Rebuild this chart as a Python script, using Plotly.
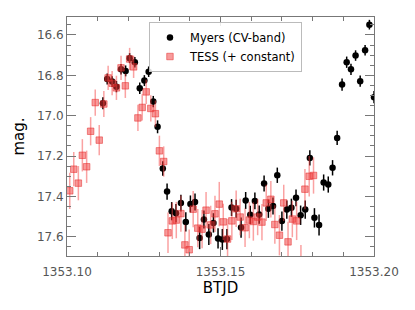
import plotly.graph_objects as go

# Myers (CV-band)
myers_t = [1353.1117, 1353.1131, 1353.1147, 1353.1161, 1353.1176, 1353.1191, 1353.1204, 1353.1221,
           1353.1237, 1353.1252, 1353.1266, 1353.1281, 1353.1295, 1353.1312, 1353.1326, 1353.1341,
           1353.1355, 1353.1371, 1353.1387, 1353.1402, 1353.1417, 1353.1432, 1353.1446, 1353.1462,
           1353.1477, 1353.1492, 1353.1506, 1353.1521, 1353.1536, 1353.1551, 1353.1567, 1353.1582,
           1353.1597, 1353.1612, 1353.1626, 1353.1642, 1353.1656, 1353.1671, 1353.1685, 1353.1700,
           1353.1716, 1353.1731, 1353.1746, 1353.1761, 1353.1776, 1353.1791, 1353.1806, 1353.1821,
           1353.1836, 1353.1851, 1353.1865, 1353.1880, 1353.1896, 1353.1911, 1353.1925, 1353.1940,
           1353.1955, 1353.1971, 1353.1985, 1353.2000]
myers_mag = [16.938, 16.818, 16.831, 16.856, 16.770, 16.778, 16.715, 16.735,
             16.864, 16.826, 16.782, 16.930, 17.055, 17.262, 17.376, 17.473,
             17.483, 17.433, 17.526, 17.437, 17.427, 17.606, 17.514, 17.589,
             17.531, 17.608, 17.613, 17.611, 17.455, 17.461, 17.554, 17.420,
             17.491, 17.422, 17.490, 17.336, 17.461, 17.447, 17.295, 17.522,
             17.465, 17.456, 17.407, 17.493, 17.465, 17.209, 17.506, 17.541,
             17.331, 17.341, 17.258, 17.110, 16.846, 16.735, 16.770, 16.702,
             16.829, 16.676, 16.549, 16.908]
myers_err = [0.030, 0.027, 0.027, 0.028, 0.026, 0.027, 0.025, 0.026,
             0.028, 0.027, 0.026, 0.028, 0.032, 0.036, 0.040, 0.045,
             0.045, 0.042, 0.048, 0.042, 0.042, 0.055, 0.045, 0.052,
             0.048, 0.050, 0.052, 0.050, 0.042, 0.045, 0.050, 0.042,
             0.045, 0.042, 0.045, 0.040, 0.045, 0.042, 0.038, 0.048,
             0.045, 0.045, 0.042, 0.048, 0.045, 0.038, 0.048, 0.052,
             0.040, 0.040, 0.038, 0.035, 0.030, 0.028, 0.028, 0.026,
             0.028, 0.026, 0.024, 0.030]

# TESS (+ constant)
tess_t = [1353.1009, 1353.1022, 1353.1037, 1353.1050, 1353.1064, 1353.1077, 1353.1092, 1353.1105,
          1353.1120, 1353.1134, 1353.1147, 1353.1161, 1353.1176, 1353.1190, 1353.1204, 1353.1217,
          1353.1231, 1353.1245, 1353.1258, 1353.1273, 1353.1288, 1353.1301, 1353.1315, 1353.1329,
          1353.1343, 1353.1356, 1353.1371, 1353.1384, 1353.1398, 1353.1411, 1353.1426, 1353.1440,
          1353.1453, 1353.1468, 1353.1482, 1353.1496, 1353.1509, 1353.1523, 1353.1537, 1353.1551,
          1353.1564, 1353.1580, 1353.1594, 1353.1607, 1353.1621, 1353.1635, 1353.1649, 1353.1664,
          1353.1677, 1353.1692, 1353.1706, 1353.1720, 1353.1734, 1353.1748, 1353.1762, 1353.1775,
          1353.1789, 1353.1803]
tess_mag = [17.372, 17.265, 17.334, 17.196, 17.253, 17.077, 16.935, 17.121,
            16.942, 16.813, 16.839, 16.862, 16.763, 16.852, 16.719, 16.758,
            17.011, 16.959, 16.882, 16.964, 16.990, 17.174, 17.227, 17.580,
            17.521, 17.517, 17.485, 17.640, 17.664, 17.463, 17.557, 17.562,
            17.468, 17.541, 17.486, 17.438, 17.526, 17.611, 17.521, 17.461,
            17.502, 17.555, 17.517, 17.524, 17.502, 17.527, 17.432, 17.414,
            17.539, 17.592, 17.432, 17.625, 17.512, 17.521, 17.740, 17.364,
            17.300, 17.296]
tess_err = [0.090, 0.085, 0.085, 0.080, 0.080, 0.070, 0.065, 0.075,
            0.065, 0.060, 0.060, 0.060, 0.060, 0.060, 0.055, 0.055,
            0.065, 0.065, 0.060, 0.065, 0.065, 0.075, 0.075, 0.100,
            0.090, 0.090, 0.090, 0.100, 0.100, 0.090, 0.095, 0.095,
            0.090, 0.095, 0.090, 0.110, 0.090, 0.100, 0.095, 0.090,
            0.090, 0.095, 0.090, 0.095, 0.090, 0.090, 0.090, 0.090,
            0.095, 0.100, 0.090, 0.100, 0.090, 0.095, 0.100, 0.100,
            0.100, 0.090]

fig = go.Figure()
fig.add_trace(go.Scatter(
    x=myers_t, y=myers_mag, mode="markers", name="Myers (CV-band)",
    marker=dict(symbol="circle", size=6.5, color="black"),
    error_y=dict(type="data", array=myers_err, visible=True, color="black", thickness=1.5, width=0),
))
fig.add_trace(go.Scatter(
    x=tess_t, y=tess_mag, mode="markers", name="TESS (+ constant)",
    marker=dict(symbol="square", size=6.5, color="rgba(240,55,55,0.5)",
                line=dict(color="rgba(230,40,40,0.5)", width=1)),
    error_y=dict(type="data", array=tess_err, visible=True, color="rgba(245,70,70,0.5)",
                 thickness=1.5, width=0),
))

axis_col = "#777777"
fig.update_layout(
    width=407, height=302,
    margin=dict(l=59, r=41, t=9, b=54, autoexpand=False),
    paper_bgcolor="white", plot_bgcolor="white",
    font=dict(family="DejaVu Sans", size=12, color="black"),
    showlegend=True,
    legend=dict(x=0.267, y=0.979, xanchor="left", yanchor="top",
                bordercolor="#bbbbbb", borderwidth=1, bgcolor="rgba(255,255,255,0.85)",
                font=dict(family="DejaVu Sans", size=11.5, color="black"),
                tracegroupgap=0),
)
fig.update_xaxes(
    range=[1353.10, 1353.20], tick0=1353.10, dtick=0.05, tickformat=".2f",
    ticks="inside", ticklen=9, tickwidth=1, tickcolor=axis_col,
    showline=True, linecolor=axis_col, linewidth=1, mirror="ticks",
    showgrid=False, zeroline=False, ticklabelstandoff=5,
    tickfont=dict(family="DejaVu Sans", size=12, color="#555555"),
    title=dict(text="BTJD", font=dict(family="DejaVu Sans", size=15, color="black"), standoff=4),
    minor=dict(tick0=1353.10, dtick=0.01, ticks="inside", ticklen=4, tickcolor=axis_col, showgrid=False),
)
fig.update_yaxes(
    range=[17.695, 16.511], tick0=16.6, dtick=0.2, tickformat=".1f",
    ticks="inside", ticklen=9, tickwidth=1, tickcolor=axis_col,
    showline=True, linecolor=axis_col, linewidth=1, mirror="ticks",
    showgrid=False, zeroline=False,
    tickfont=dict(family="DejaVu Sans", size=12, color="#555555"),
    title=dict(text="mag.", font=dict(family="DejaVu Sans", size=15, color="black"), standoff=8),
    minor=dict(tick0=16.6, dtick=0.05, ticks="inside", ticklen=4, tickcolor=axis_col, showgrid=False),
)

fig.write_html("out.html")
